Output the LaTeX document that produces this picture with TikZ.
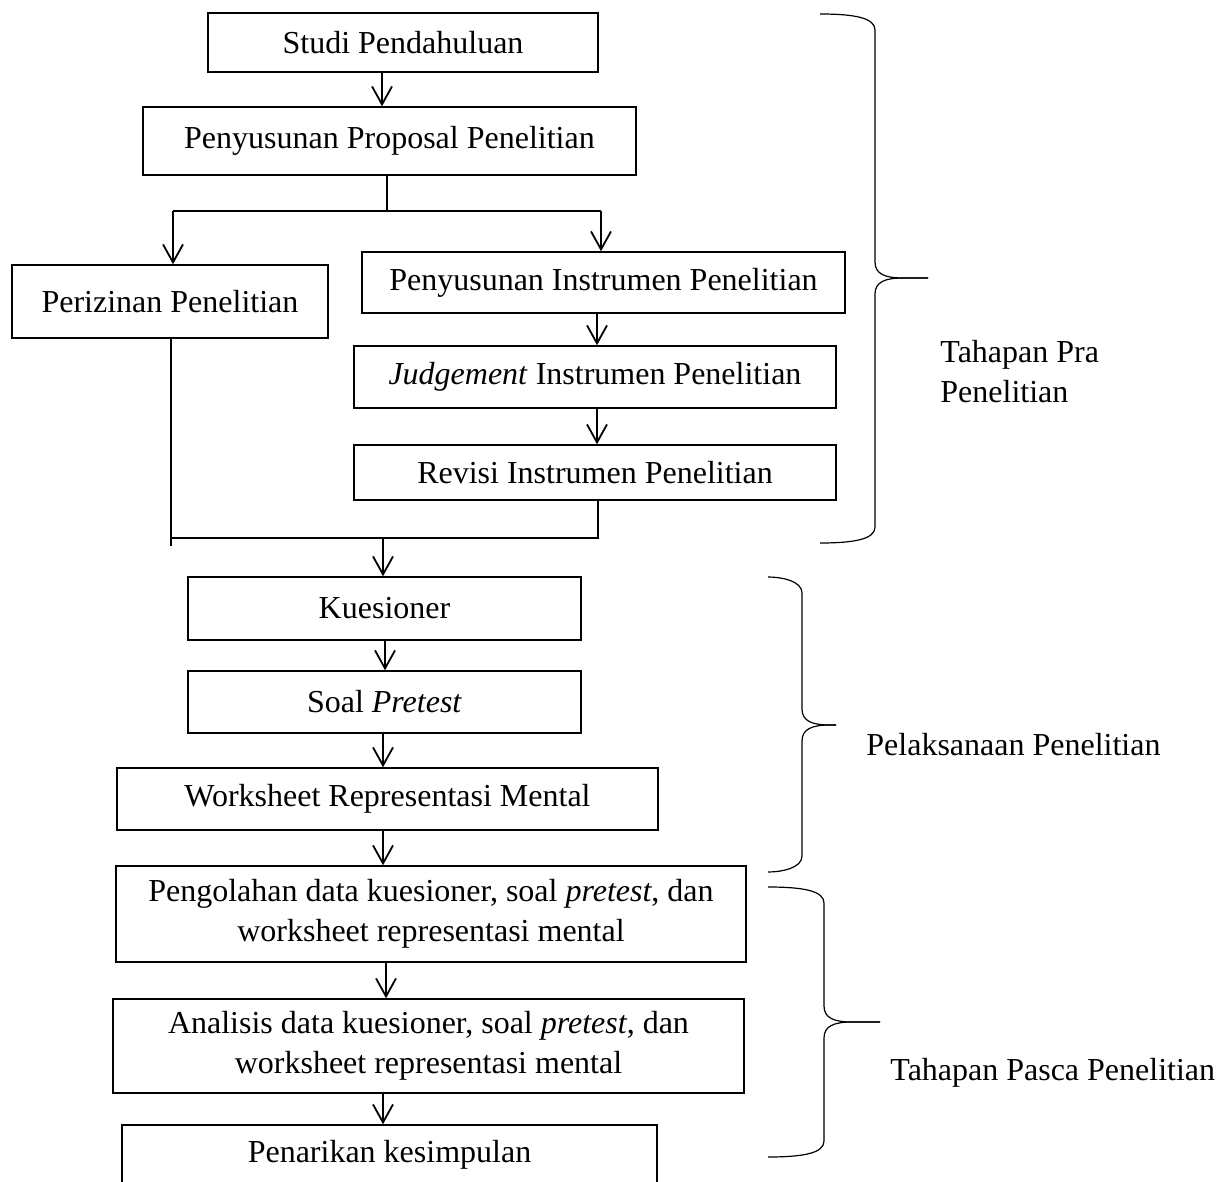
\documentclass[tikz,border=0pt]{standalone}
\usepackage{fontspec}
\setmainfont{Liberation Serif}
\usetikzlibrary{arrows.meta}
\newcommand\curlyb[6]{%
  \draw[brace] (#1,#2) .. controls ({#3-20},{#2}) and (#3,{#2+4}) .. (#3,{#2+16})
     -- (#3,{#5-16}) .. controls (#3,{#5-4}) and ({#3+10},#5) .. ({#3+28},#5) -- (#4,#5);
  \draw[brace] (#4,#5) -- ({#3+28},#5) .. controls ({#3+10},#5) and (#3,{#5+4}) .. (#3,{#5+16})
     -- (#3,{#6-16}) .. controls (#3,{#6-4}) and ({#3-20},{#6}) .. (#1,#6);
}
\begin{document}
\begin{tikzpicture}[x=0.5pt,y=-0.5pt,
  box/.style={draw, line width=0.75pt, inner sep=0pt, align=center, font=\fontsize{16}{20}\selectfont},
  sz/.style 2 args={minimum width=#1*0.5pt, minimum height=#2*0.5pt},
  arr/.style={line width=0.9pt, -{Straight Barb[length=9pt,width=10pt,line width=0.9pt]}},
  conn/.style={line width=0.75pt},
  brace/.style={line width=0.6pt},
  lbl/.style={font=\fontsize{16}{20}\selectfont, align=left, inner sep=0pt, anchor=west}]
\useasboundingbox (0,0) rectangle (1232,1182);
\clip (0,0) rectangle (1232,1182);

% boxes
\node[box, sz={390}{59}] (s1) at (403,42.5) {Studi Pendahuluan};
\node[box, sz={493}{68}] (s2) at (389.5,141) {Penyusunan Proposal Penelitian};
\node[box, sz={316}{73}] (per) at (170,301.5) {Perizinan Penelitian};
\node[box, sz={483}{61}] (ins) at (603.5,282.5) {Penyusunan Instrumen Penelitian};
\node[box, sz={482}{62}] (jud) at (595,377) {\textit{Judgement} Instrumen Penelitian};
\node[box, sz={482}{55}] (rev) at (595,472.5) {Revisi Instrumen Penelitian};
\node[box, sz={393}{63}] (kue) at (384.5,608.5) {Kuesioner};
\node[box, sz={393}{62}] (soal) at (384.5,702) {Soal \textit{Pretest}};
\node[box, sz={541}{62}] (ws) at (387.5,799) {Worksheet Representasi Mental};
\node[box, sz={630}{96}] (peng) at (431,914) {Pengolahan data kuesioner, soal \textit{pretest}, dan\\worksheet representasi mental};
\node[box, sz={631}{94}] (ana) at (428.5,1046) {Analisis data kuesioner, soal \textit{pretest}, dan\\worksheet representasi mental};
\node[box, sz={535}{60}] (pen) at (389.5,1155) {Penarikan kesimpulan};

% helper coordinates
\coordinate (a1) at (382,0);
\coordinate (tr) at (387,211);
\coordinate (bl) at (173,211);
\coordinate (br) at (601,211);
\coordinate (a2) at (597,0);
\coordinate (ml) at (171,538);
\coordinate (mlx) at (171,546);
\coordinate (mr) at (598,538);
\coordinate (mc) at (383,538);
\coordinate (a3) at (385,0);
\coordinate (a4) at (383,0);
\coordinate (a5) at (386,0);

% connectors
\draw[arr] (s1.south -| a1) -- (s2.north -| a1);
\draw[conn] (s2.south -| tr) -- (tr);
\draw[conn] (bl) -- (br);
\draw[arr] (bl) -- (per.north -| bl);
\draw[arr] (br) -- (ins.north -| br);
\draw[arr] (ins.south -| a2) -- (jud.north -| a2);
\draw[arr] (jud.south -| a2) -- (rev.north -| a2);
\draw[conn] (per.south -| ml) -- (mlx);
\draw[conn] (rev.south -| mr) -- (mr) -- (ml);
\draw[arr] (mc) -- (kue.north -| mc);
\draw[arr] (kue.south -| a3) -- (soal.north -| a3);
\draw[arr] (soal.south -| a4) -- (ws.north -| a4);
\draw[arr] (ws.south -| a4) -- (peng.north -| a4);
\draw[arr] (peng.south -| a5) -- (ana.north -| a5);
\draw[arr] (ana.south -| a4) -- (pen.north -| a4);

% braces
\curlyb{820}{14}{875}{928}{278}{543}
\curlyb{768}{577}{802}{836}{725}{872}
\curlyb{768}{887}{824}{880}{1022}{1157}

% labels
\node[lbl] (l1) at (940,372) {Tahapan Pra\\Penelitian};
\node[lbl] (l2) at (866,745) {Pelaksanaan Penelitian};
\node[lbl] (l3) at (890,1073) {Tahapan Pasca Penelitian};
\end{tikzpicture}
\end{document}
